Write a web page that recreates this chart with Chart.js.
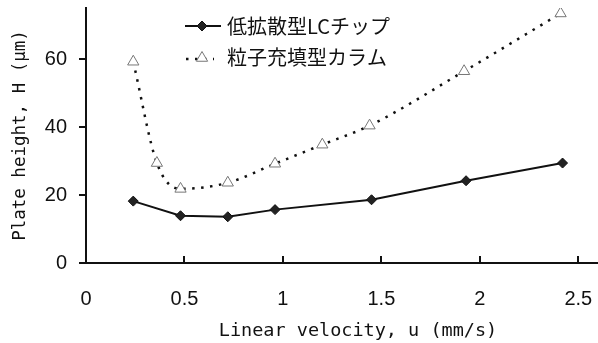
<!DOCTYPE html>
<html>
<head>
<meta charset="utf-8">
<script src="https://cdn.jsdelivr.net/npm/chart.js@4/dist/chart.umd.min.js"></script>
<style>
  html, body { margin: 0; padding: 0; background: #fff; }
  #wrap { width: 598px; height: 343px; }
</style>
</head>
<body>
<div id="wrap"><canvas id="plateChart" width="598" height="343"></canvas></div>
<script>
// プレートハイト vs 線速度
const seriesNames = ["低拡散型LCチップ", "粒子充填型カラム"];
const chipU = [0.24, 0.48, 0.72, 0.96, 1.45, 1.93, 2.42];
const chipH = [18.2, 13.9, 13.6, 15.7, 18.6, 24.2, 29.4];
const columnU = [0.24, 0.36, 0.48, 0.72, 0.96, 1.20, 1.44, 1.92, 2.41];
const columnH = [59.2, 29.4, 21.8, 23.6, 29.2, 34.8, 40.4, 56.4, 73.4];
const xTicks = [0, 0.5, 1, 1.5, 2, 2.5];
const yTicks = [0, 20, 40, 60];
const xTitle = "Linear velocity, u (mm/s)";
const yTitle = "Plate height, H (μm)";

const JP = '"Noto Sans CJK JP", sans-serif';
const NUM = '"Liberation Sans", Arial, sans-serif';
const MONO = '"DejaVu Sans Mono", "Liberation Mono", monospace';

function toPoints(xs, ys) {
  return xs.map((x, i) => ({ x: x, y: ys[i] }));
}

// 目盛り線（x軸は内向き、y軸は外向き）、x軸タイトル、凡例
const tickAndLegend = {
  id: "tickAndLegend",
  afterDraw(chart) {
    const ctx = chart.ctx;
    const xs = chart.scales.x, ys = chart.scales.y;
    const area = chart.chartArea;
    ctx.save();
    ctx.strokeStyle = "#111";
    ctx.lineWidth = 2;
    ctx.beginPath();
    xTicks.forEach(v => {
      const px = Math.round(xs.getPixelForValue(v));
      ctx.moveTo(px, area.bottom);
      ctx.lineTo(px, area.bottom - 7);
    });
    yTicks.forEach(v => {
      const py = Math.round(ys.getPixelForValue(v));
      ctx.moveTo(area.left, py);
      ctx.lineTo(area.left - 7, py);
    });
    ctx.stroke();

    // x title (slightly right of centre in the original)
    ctx.fillStyle = "#111";
    ctx.font = "18.5px " + MONO;
    ctx.textAlign = "center";
    ctx.textBaseline = "middle";
    ctx.fillText(xTitle, 358, 331);

    // legend
    const rows = [26, 57];
    chart.data.datasets.forEach((ds, i) => {
      const y = rows[i];
      ctx.save();
      ctx.strokeStyle = ds.borderColor;
      ctx.lineWidth = ds.borderWidth;
      ctx.setLineDash(ds.borderDash || []);
      ctx.beginPath();
      if (i === 0) { ctx.moveTo(185, y); ctx.lineTo(221, y); }
      else { ctx.moveTo(186, y + 2); ctx.lineTo(214, y + 2); }
      ctx.stroke();
      ctx.restore();
      ctx.fillStyle = ds.pointBackgroundColor;
      ctx.strokeStyle = ds.pointBorderColor;
      ctx.lineWidth = ds.pointBorderWidth || 1;
      Chart.helpers.drawPoint(ctx, {
        pointStyle: ds.pointStyle,
        radius: ds.pointRadius,
        rotation: 0,
        borderWidth: ds.pointBorderWidth || 1
      }, 202, i === 0 ? y : y + 1);
      ctx.fillStyle = "#111";
      ctx.font = "20px " + JP;
      ctx.textBaseline = "middle";
      ctx.textAlign = "left";
      ctx.fillText(seriesNames[i], 227, y);
    });
    ctx.restore();
  }
};

new Chart(document.getElementById("plateChart").getContext("2d"), {
  type: "scatter",
  data: {
    datasets: [{
      label: seriesNames[0],
      data: toPoints(chipU, chipH),
      showLine: true,
      borderColor: "#111",
      borderWidth: 2,
      pointStyle: "rectRot",
      pointRadius: 5,
      pointBackgroundColor: "#222",
      pointBorderColor: "#111",
      pointBorderWidth: 1,
      tension: 0
    }, {
      label: seriesNames[1],
      data: toPoints(columnU, columnH),
      showLine: true,
      borderColor: "#111",
      borderWidth: 2.5,
      borderDash: [2.5, 6.5],
      pointStyle: "triangle",
      pointRadius: 6.5,
      pointBackgroundColor: "#fff",
      pointBorderColor: "#777",
      pointBorderWidth: 1,
      cubicInterpolationMode: "monotone"
    }]
  },
  options: {
    responsive: false,
    animation: false,
    layout: { autoPadding: false, padding: { top: 8, right: 0, left: 0, bottom: 0 } },
    plugins: { legend: { display: false }, tooltip: { enabled: false } },
    scales: {
      x: {
        type: "linear",
        min: 0, max: 2.6,
        afterFit: s => { s.height = 80; s.paddingLeft = 0; s.paddingRight = 0; },
        afterBuildTicks: s => { s.ticks = xTicks.map(v => ({ value: v })); },
        grid: { display: false, drawTicks: false },
        border: { display: true, color: "#111", width: 2 },
        ticks: {
          color: "#111", padding: 24, font: { family: NUM, size: 20 },
          callback: v => String(v)
        }
      },
      y: {
        type: "linear",
        min: 0, max: 75,
        afterFit: s => { s.width = 86; s.paddingTop = 0; s.paddingBottom = 0; },
        afterBuildTicks: s => { s.ticks = yTicks.map(v => ({ value: v })); },
        grid: { display: false, drawTicks: false },
        border: { display: true, color: "#111", width: 2 },
        ticks: { color: "#111", padding: 19, font: { family: NUM, size: 20 } },
        title: {
          display: true, text: yTitle, color: "#111",
          font: { family: MONO, size: 17.5 }, padding: { top: 10, bottom: 0 }
        }
      }
    }
  },
  plugins: [tickAndLegend]
});
</script>
</body>
</html>
